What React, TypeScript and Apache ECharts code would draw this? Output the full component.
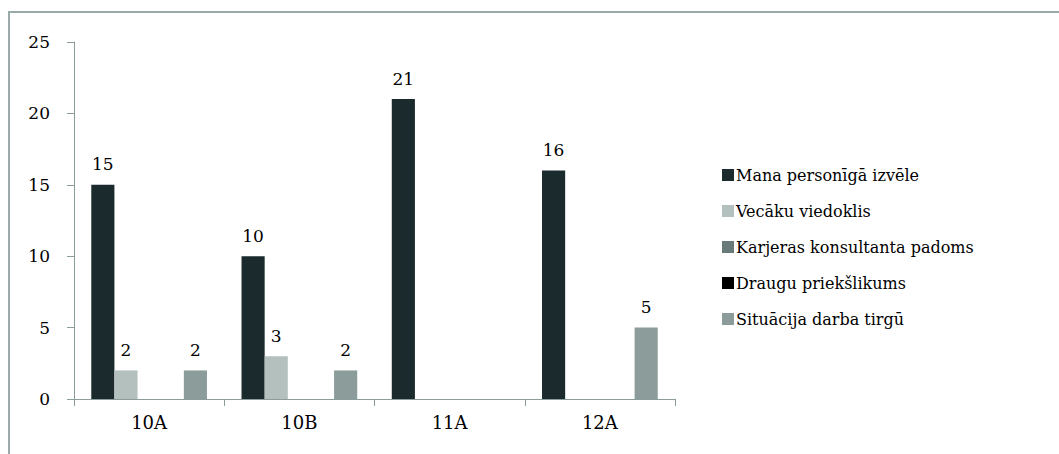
import React, { useEffect, useRef } from "react";
import * as echarts from "echarts";

const categories = ["10A", "10B", "11A", "12A"];
const seriesNames = [
  "Mana personīgā izvēle",
  "Vecāku viedoklis",
  "Karjeras konsultanta padoms",
  "Draugu priekšlikums",
  "Situācija darba tirgū",
];
const manaValues = [15, 10, 21, 16];
const vecakuValues = [2, 3, 0, 0];
const karjerasValues = [0, 0, 0, 0];
const drauguValues = [0, 0, 0, 0];
const situacijaValues = [2, 2, 0, 5];
const seriesColors = ["#1b2a2d", "#b3c0be", "#687a7a", "#000000", "#8b9c9a"];
const yTicks = [0, 5, 10, 15, 20, 25];

const FONT = "'DejaVu Serif'";

export default function App() {
  const ref = useRef<HTMLDivElement>(null);
  useEffect(() => {
    if (!ref.current) return;
    const chart = echarts.init(ref.current, null, { renderer: "svg" });
    const allValues = [manaValues, vecakuValues, karjerasValues, drauguValues, situacijaValues];
    chart.setOption({
      animation: false,
      textStyle: { fontFamily: FONT },
      graphic: [
        { type: "rect", shape: { x: 8, y: 11, width: 1100, height: 2 }, style: { fill: "#9aaaa9" }, silent: true, z: 100 },
        { type: "rect", shape: { x: 8, y: 11, width: 2, height: 500 }, style: { fill: "#9aaaa9" }, silent: true, z: 100 },
      ],
      grid: { left: 74, top: 42, width: 601, height: 357, containLabel: false },
      legend: {
        orient: "vertical",
        left: 717,
        top: 160,
        itemWidth: 12,
        itemHeight: 12,
        itemGap: 16,
        icon: "rect",
        textStyle: { fontFamily: FONT, fontSize: 16, color: "#000", lineHeight: 20, padding: [0, 0, 0, -3] },
        data: seriesNames,
      },
      xAxis: {
        type: "category",
        data: categories,
        axisLine: { lineStyle: { color: "#8a9d9c", width: 1 } },
        axisTick: { show: true, length: 7, lineStyle: { color: "#8a9d9c" } },
        axisLabel: { fontFamily: FONT, fontSize: 18, color: "#000", margin: 14 },
      },
      yAxis: {
        type: "value",
        min: 0,
        max: yTicks[yTicks.length - 1],
        interval: 5,
        axisLine: { show: true, lineStyle: { color: "#8a9d9c", width: 1 } },
        axisTick: { show: true, length: 7, lineStyle: { color: "#8a9d9c" } },
        splitLine: { show: false },
        axisLabel: { fontFamily: FONT, fontSize: 17, color: "#000", margin: 24 },
      },
      series: seriesNames.map((name, i) => ({
        name,
        type: "bar",
        data: allValues[i],
        barGap: "0%",
        barCategoryGap: "23%",
        itemStyle: { color: seriesColors[i] },
        label: {
          show: true,
          position: "top",
          distance: 12,
          fontFamily: FONT,
          fontSize: 17,
          color: "#000",
          formatter: (p: any) => (p.value ? String(p.value) : ""),
        },
      })),
    });
    return () => chart.dispose();
  }, []);
  return (
    <div style={{ position: "fixed", left: 0, top: 0, width: 1059, height: 454, background: "#fff", overflow: "hidden" }}>
      <div ref={ref} style={{ position: "absolute", left: 0, top: 0, width: 1059, height: 454 }} />
    </div>
  );
}
